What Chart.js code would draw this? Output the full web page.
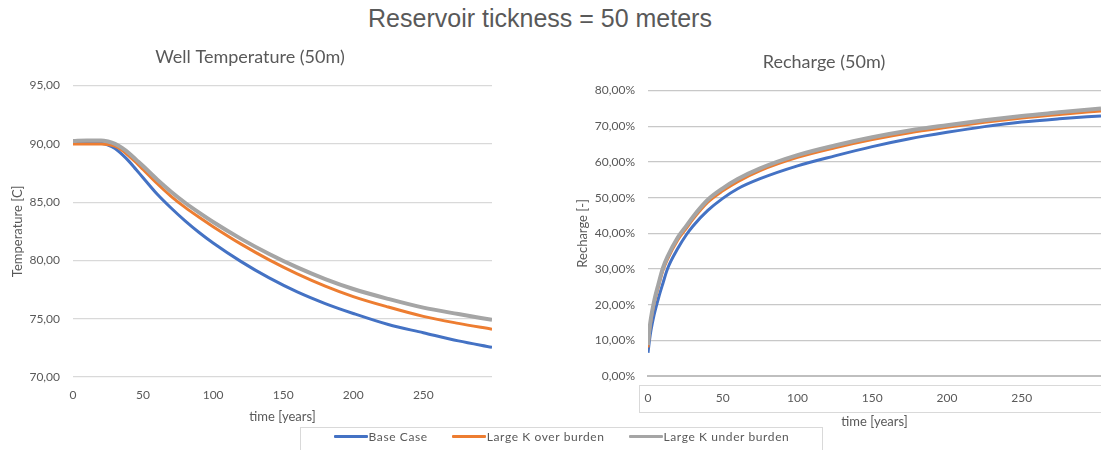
<!DOCTYPE html>
<html>
<head>
<meta charset="utf-8">
<script src="https://cdn.jsdelivr.net/npm/chart.js@4.4.1/dist/chart.umd.min.js"></script>
<style>
    body { margin: 0; width: 1101px; height: 450px; background: #fff; overflow: hidden; position: relative; }
    #mainTitle { position: absolute; top: 4px; left: 0; width: 1080px; text-align: center; font-family: "Liberation Sans", Arial, sans-serif; font-size: 25px; color: #595959; }
    #tempWrap { position: absolute; left: 0; top: 0; width: 505px; height: 427px; }
    #rechWrap { position: absolute; left: 547px; top: 0; width: 554px; height: 430px; }
    #axisFrame { position: absolute; left: 639px; top: 385px; width: 480px; height: 26px; border: 1px solid #d9d9d9; }
    #legend { position: absolute; left: 300px; top: 427px; width: 523px; height: 30px; border: 1px solid #d9d9d9; box-sizing: border-box;
        display: flex; justify-content: center; gap: 24px; padding-top: 1px; font-family: Lato, sans-serif; font-size: 12px; color: #595959; letter-spacing: 0.6px; }
    .item { display: flex; align-items: center; height: 14px; }
    .swatch { display: inline-block; width: 34px; height: 3px; margin-right: 1px; border-radius: 1px; }
</style>
</head>
<body>
<div id="mainTitle">Reservoir tickness = 50 meters</div>
<div id="axisFrame"></div>
<div id="tempWrap"><canvas id="tempChart" width="505" height="427"></canvas></div>
<div id="rechWrap"><canvas id="rechChart" width="554" height="430"></canvas></div>
<div id="legend"></div>

<script>
// series names and colours
const seriesNames = ['Base Case', 'Large K over burden', 'Large K under burden'];
const seriesColors = ['#4472C4', '#ED7D31', '#A5A5A5'];
const seriesWidths = [3, 3, 4];

// well temperature [C] vs time [years]
const tempTime = [0, 10, 20, 25, 30, 35, 40, 45, 50, 60, 70, 80, 90, 100, 120, 140, 160, 180, 200, 225, 250, 275, 299];
const tempBase = [90.1, 90.1, 90.05, 89.9, 89.6, 89.1, 88.5, 87.8, 87.1, 85.7, 84.5, 83.4, 82.4, 81.5, 79.9, 78.5, 77.3, 76.3, 75.45, 74.5, 73.8, 73.1, 72.55];
const tempOver = [90.0, 90.0, 90.0, 89.95, 89.8, 89.45, 88.95, 88.4, 87.8, 86.6, 85.5, 84.55, 83.7, 82.9, 81.4, 80.05, 78.85, 77.8, 76.9, 76.0, 75.2, 74.6, 74.1];
const tempUnder = [90.25, 90.3, 90.3, 90.2, 90.0, 89.65, 89.2, 88.65, 88.1, 86.95, 85.9, 84.95, 84.1, 83.3, 81.85, 80.55, 79.4, 78.4, 77.55, 76.7, 75.95, 75.4, 74.9];

// recharge [%] vs time [years]
const rechTime = [0, 1, 2, 4, 7, 10, 13, 20, 26, 30, 40, 50, 60, 75, 100, 125, 150, 175, 200, 225, 250, 275, 303];
const rechBase = [6.5, 10, 12.8, 17, 21.8, 26, 30, 35.8, 39.8, 42, 46.4, 49.8, 52.5, 55.3, 58.9, 61.7, 64.3, 66.5, 68.3, 69.9, 71.2, 72.1, 72.9];
const rechOver = [8.0, 12.5, 15.6, 20.1, 25.1, 29.6, 32.7, 38.2, 41.6, 43.9, 48.7, 51.9, 54.5, 57.6, 61.3, 64.0, 66.3, 68.2, 69.7, 71.1, 72.3, 73.3, 74.3];
const rechUnder = [8.7, 13.2, 16.3, 20.8, 25.8, 30.3, 33.4, 38.9, 42.3, 44.6, 49.4, 52.6, 55.2, 58.2, 61.9, 64.6, 66.9, 68.8, 70.3, 71.7, 72.9, 73.9, 75.0];

// tick settings
const tempTicks = { min: 70, max: 95, step: 5 };
const rechTicks = { min: 0, max: 80, step: 10 };
const timeTicks = [0, 50, 100, 150, 200, 250];

const textColor = '#595959';
const fontFamily = 'Lato, sans-serif';

function commaNumber(v) {
    return v.toFixed(2).replace('.', ',');
}

function buildDatasets(times, seriesList) {
    return seriesList.map((values, i) => ({
        label: seriesNames[i],
        data: times.map((t, j) => ({ x: t, y: values[j] })),
        borderColor: seriesColors[i],
        backgroundColor: seriesColors[i],
        borderWidth: seriesWidths[i],
        pointRadius: 0,
        cubicInterpolationMode: 'monotone',
        fill: false,
        // last series drawn on top
        order: seriesList.length - i
    }));
}

function lineChart(canvasId, opts) {
    return new Chart(document.getElementById(canvasId).getContext('2d'), {
        type: 'line',
        data: { datasets: opts.datasets },
        options: {
            responsive: false,
            animation: false,
            layout: { padding: opts.padding },
            plugins: {
                legend: { display: false },
                tooltip: { enabled: false },
                title: {
                    display: true,
                    text: opts.title,
                    color: textColor,
                    font: { family: fontFamily, size: 18, weight: 'normal' },
                    padding: opts.titlePadding
                }
            },
            scales: {
                x: {
                    type: 'linear',
                    min: 0,
                    max: opts.xMax,
                    grid: { display: false, drawTicks: false },
                    border: opts.xBorder,
                    afterBuildTicks: scale => { scale.ticks = timeTicks.map(v => ({ value: v })); },
                    ticks: {
                        maxRotation: 0,
                        padding: opts.xTickPad,
                        color: textColor,
                        font: { family: fontFamily, size: 12 }
                    },
                    title: {
                        display: true,
                        text: 'time [years]',
                        color: textColor,
                        font: { family: fontFamily, size: 13 },
                        padding: { top: 0, bottom: opts.xTitleBottom }
                    },
                    afterFit: scale => { scale.height = opts.xHeight; }
                },
                y: {
                    min: opts.yTicks.min,
                    max: opts.yTicks.max,
                    grid: { color: opts.gridColor, lineWidth: 1.3, drawTicks: false },
                    border: { display: false },
                    ticks: {
                        stepSize: opts.yTicks.step,
                        padding: 13,
                        color: textColor,
                        font: { family: fontFamily, size: 12 },
                        callback: opts.yFormat
                    },
                    title: {
                        display: true,
                        text: opts.yTitle,
                        color: textColor,
                        font: { family: fontFamily, size: 13 },
                        padding: { top: opts.yTitleTop, bottom: 0 }
                    },
                    afterFit: scale => { scale.width = opts.yWidth; }
                }
            }
        }
    });
}

lineChart('tempChart', {
    datasets: buildDatasets(tempTime, [tempBase, tempOver, tempUnder]),
    title: 'Well Temperature (50m)',
    titlePadding: { top: 10, bottom: 18 },
    padding: { top: 36, left: 8, right: 13, bottom: 0 },
    xMax: 299,
    xBorder: { display: false },
    xTickPad: 11,
    xTitleBottom: 2,
    xHeight: 50,
    yTicks: tempTicks,
    yTitle: 'Temperature [C]',
    yTitleTop: 2,
    yWidth: 65,
    gridColor: '#d9d9d9',
    yFormat: v => commaNumber(v)
});

lineChart('rechChart', {
    datasets: buildDatasets(rechTime, [rechBase, rechOver, rechUnder]),
    title: 'Recharge (50m)',
    titlePadding: { top: 15, bottom: 18 },
    padding: { top: 36, left: 0, right: 0, bottom: 0 },
    xMax: 303,
    xBorder: { display: true, color: '#bfbfbf', width: 2 },
    xTickPad: 15,
    xTitleBottom: 0,
    xHeight: 54,
    yTicks: rechTicks,
    yTitle: 'Recharge [-]',
    yTitleTop: 28,
    yWidth: 101,
    gridColor: '#c8c8c8',
    yFormat: v => commaNumber(v) + '%'
});

// shared legend under both charts
const legendEl = document.getElementById('legend');
seriesNames.forEach((name, i) => {
    const item = document.createElement('div');
    item.className = 'item';
    item.innerHTML = `<span class="swatch" style="background:${seriesColors[i]}"></span>${name}`;
    legendEl.appendChild(item);
});
</script>
</body>
</html>
